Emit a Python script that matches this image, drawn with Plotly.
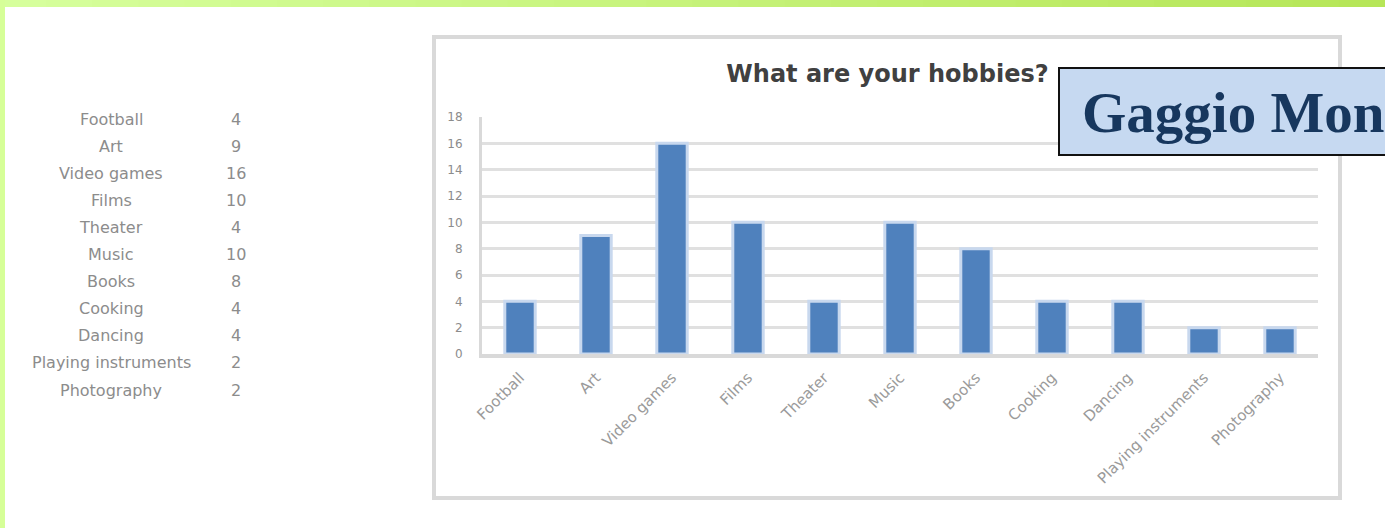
import plotly.graph_objects as go

# ---- data ----
categories = ["Football", "Art", "Video games", "Films", "Theater", "Music",
              "Books", "Cooking", "Dancing", "Playing instruments", "Photography"]
counts = [4, 9, 16, 10, 4, 10, 8, 4, 4, 2, 2]
y_ticks = [0, 2, 4, 6, 8, 10, 12, 14, 16, 18]
title_text = "What are your hobbies?"
overlay_text = "Gaggio Mon"

# ---- geometry (pixels) ----
W, H = 1385, 528
PL, PR, PT, PB = 482, 1318, 117, 354


def px(x):
    return (x - PL) / (PR - PL)


def py(y):
    return (PB - y) / (PB - PT)


fig = go.Figure()
fig.add_trace(go.Bar(
    x=categories, y=counts, width=0.40,
    marker=dict(color="#4f81bd", line=dict(color="#c8d8ee", width=3)),
    hoverinfo="x+y",
))

shapes = []
# top gradient band
n = 30
c0 = (0xd6, 0xff, 0x9c)
c1 = (0xb6, 0xe6, 0x58)
for i in range(n):
    t = i / (n - 1)
    c = tuple(round(a + (b - a) * t) for a, b in zip(c0, c1))
    shapes.append(dict(type="rect", xref="paper", yref="paper",
                       x0=px(W * i / n), x1=px(W * (i + 1) / n + 1),
                       y0=py(0), y1=py(7), fillcolor="rgb(%d,%d,%d)" % c,
                       line=dict(width=0), layer="above"))
# left band
shapes.append(dict(type="rect", xref="paper", yref="paper",
                   x0=px(0), x1=px(5), y0=py(0), y1=py(H),
                   fillcolor="#d6ff98", line=dict(width=0), layer="above"))
# chart frame
shapes.append(dict(type="rect", xref="paper", yref="paper",
                   x0=px(434), x1=px(1340), y0=py(37), y1=py(498),
                   fillcolor="rgba(0,0,0,0)", line=dict(color="#d9d9d9", width=4),
                   layer="below"))
# overlay box
shapes.append(dict(type="rect", xref="paper", yref="paper",
                   x0=px(1059), x1=px(1420), y0=py(68), y1=py(155),
                   fillcolor="#c6d9f1", line=dict(color="#111111", width=2),
                   layer="above"))

annotations = []
# left table
for i, (c, v) in enumerate(zip(categories, counts)):
    yy = 119 + 27.1 * i
    annotations.append(dict(xref="paper", yref="paper", x=px(111), y=py(yy),
                            text=c, showarrow=False, xanchor="center", yanchor="middle",
                            font=dict(family="DejaVu Sans", size=16, color="#8c8c8c")))
    annotations.append(dict(xref="paper", yref="paper", x=px(236), y=py(yy),
                            text=str(v), showarrow=False, xanchor="center", yanchor="middle",
                            font=dict(family="DejaVu Sans", size=16, color="#8c8c8c")))
# overlay text
annotations.append(dict(xref="paper", yref="paper", x=px(1080), y=py(112),
                        text="<b>%s</b>" % overlay_text, showarrow=False,
                        xanchor="left", yanchor="middle",
                        font=dict(family="Liberation Serif", size=57, color="#17375e")))

fig.update_layout(
    width=W, height=H,
    margin=dict(l=PL, r=W - PR, t=PT, b=H - PB),
    paper_bgcolor="white", plot_bgcolor="white",
    showlegend=False,
    title=dict(text="<b>%s</b>" % title_text, x=887.5 / W, y=1 - 74 / H,
               xanchor="center", yanchor="middle",
               font=dict(family="DejaVu Sans", size=24, color="#404040")),
    xaxis=dict(showline=True, linecolor="#d9d9d9", linewidth=4,
               tickangle=-45, showgrid=False, ticks="", ticklabelstandoff=5,
               tickfont=dict(family="DejaVu Sans", size=15, color="#9a9a9a")),
    yaxis=dict(range=[0, 18], tickvals=y_ticks, showline=True, linecolor="#d9d9d9",
               linewidth=3, showgrid=True, gridcolor="#e0e0e0", gridwidth=3,
               zeroline=False, ticks="", ticklabelstandoff=14,
               tickfont=dict(family="DejaVu Sans", size=12, color="#8c8c8c")),
    shapes=shapes,
    annotations=annotations,
    bargap=0.6,
)

fig.write_html("out.html")
